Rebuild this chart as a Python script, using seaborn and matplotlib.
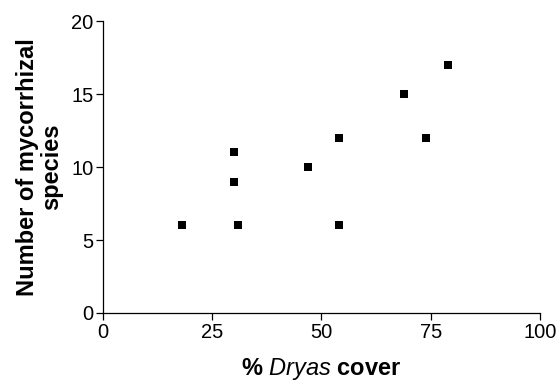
import pandas as pd
import seaborn as sns
import matplotlib.pyplot as plt

# values
dryas_cover = [18, 30, 30, 31, 47, 54, 54, 69, 74, 79]
n_species = [6, 11, 9, 6, 10, 12, 6, 15, 12, 17]
x_ticks = [0, 25, 50, 75, 100]
y_ticks = [0, 5, 10, 15, 20]

data = pd.DataFrame({'cover': dryas_cover, 'species': n_species})

sns.set_style('ticks')
plt.rcParams['font.family'] = ['Liberation Sans', 'DejaVu Sans']
plt.rcParams['mathtext.fontset'] = 'custom'
plt.rcParams['mathtext.it'] = 'Liberation Sans:italic'
plt.rcParams['mathtext.rm'] = 'Liberation Sans:bold'
plt.rcParams['text.color'] = 'black'
plt.rcParams['axes.labelcolor'] = 'black'
plt.rcParams['xtick.color'] = 'black'
plt.rcParams['ytick.color'] = 'black'

fig = plt.figure(figsize=(5.6, 3.84), dpi=100)
ax = fig.add_axes([0.184, 0.185, 0.78, 0.76])

sns.scatterplot(x='cover', y='species', data=data, ax=ax, marker='s',
                s=34, color='black', edgecolor='black', linewidth=0)

ax.set_xlim(0, 100)
ax.set_ylim(0, 20)
ax.set_xticks(x_ticks)
ax.set_yticks(y_ticks)
ax.tick_params(labelsize=14.5, length=5, width=0.9, color='black', pad=2)
for s in ['left', 'bottom']:
    ax.spines[s].set_linewidth(0.9)
    ax.spines[s].set_color('black')
sns.despine(ax=ax)

ax.set_xlabel(r'% $\mathit{Dryas}$ cover', fontsize=17, fontweight='bold', labelpad=10)
ax.set_ylabel('Number of mycorrhizal\nspecies', fontsize=17, fontweight='bold',
              labelpad=6, linespacing=1.05)

plt.savefig('out.png', dpi=100)
